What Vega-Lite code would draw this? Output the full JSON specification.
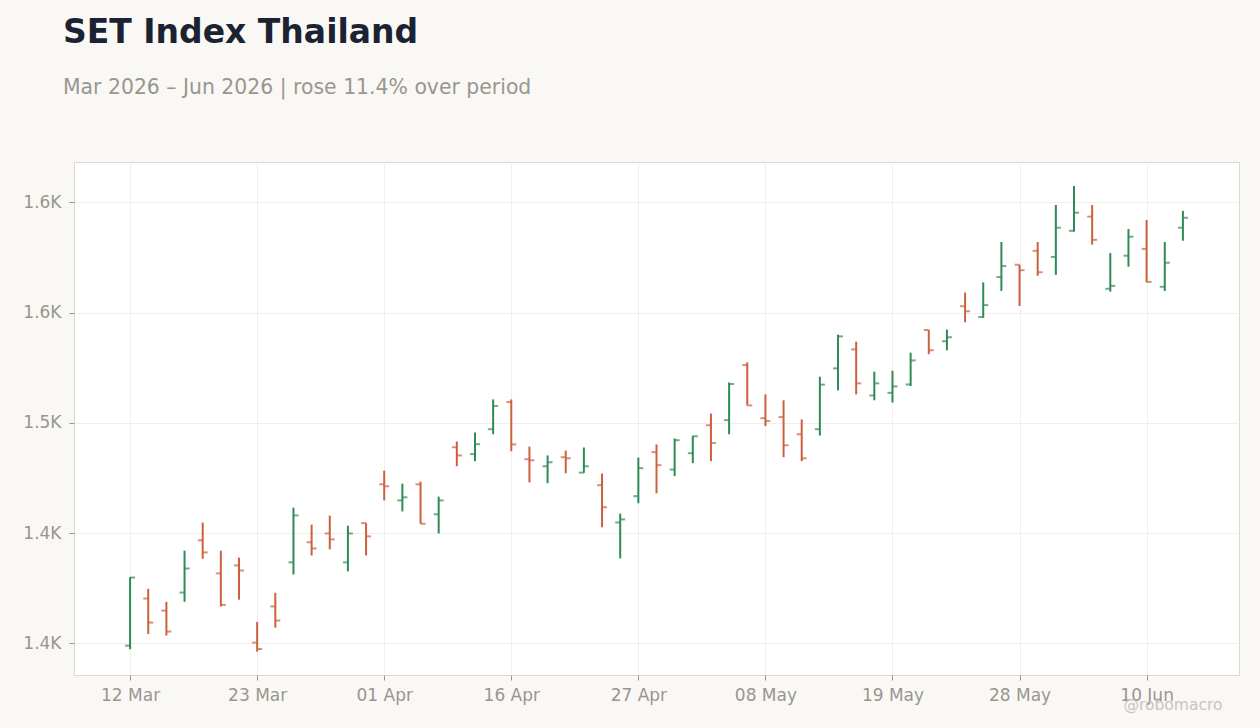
{
  "$schema": "https://vega.github.io/schema/vega-lite/v6.json",
  "autosize": {"type": "none"},
  "width": 1165,
  "height": 513,
  "padding": {"left": 74, "top": 162, "right": 21, "bottom": 53},
  "background": "#f9f8f5",
  "config": {
    "font": "DejaVu Sans",
    "view": {"fill": "#ffffff", "stroke": "#dcd8d0", "strokeWidth": 1}
  },
  "title": {
    "text": "SET Index Thailand",
    "subtitle": "Mar 2026 – Jun 2026 | rose 11.4% over period",
    "anchor": "start",
    "frame": "group",
    "dx": -11,
    "offset": 64,
    "fontSize": 33,
    "fontWeight": "bold",
    "color": "#1b2333",
    "subtitleFontSize": 20.4,
    "subtitleColor": "#9a9690",
    "subtitlePadding": 28
  },
  "data": {
    "values": [
      {"day": 0, "date": "2026-03-12", "open": 1398.9, "high": 1430.0, "low": 1397.3, "close": 1429.8},
      {"day": 1, "date": "2026-03-13", "open": 1420.3, "high": 1424.7, "low": 1404.2, "close": 1409.4},
      {"day": 2, "date": "2026-03-16", "open": 1414.8, "high": 1418.8, "low": 1403.5, "close": 1405.3},
      {"day": 3, "date": "2026-03-17", "open": 1423.0, "high": 1442.0, "low": 1418.8, "close": 1433.9},
      {"day": 4, "date": "2026-03-18", "open": 1446.7, "high": 1454.7, "low": 1438.3, "close": 1441.2},
      {"day": 5, "date": "2026-03-19", "open": 1431.7, "high": 1442.0, "low": 1416.7, "close": 1417.4},
      {"day": 6, "date": "2026-03-20", "open": 1435.3, "high": 1438.8, "low": 1419.8, "close": 1433.0},
      {"day": 7, "date": "2026-03-23", "open": 1400.3, "high": 1409.7, "low": 1396.2, "close": 1397.4},
      {"day": 8, "date": "2026-03-24", "open": 1416.7, "high": 1422.9, "low": 1407.1, "close": 1410.3},
      {"day": 9, "date": "2026-03-25", "open": 1436.7, "high": 1461.5, "low": 1431.2, "close": 1458.0},
      {"day": 10, "date": "2026-03-26", "open": 1445.8, "high": 1453.8, "low": 1439.8, "close": 1443.0},
      {"day": 11, "date": "2026-03-27", "open": 1449.8, "high": 1457.9, "low": 1442.6, "close": 1447.1},
      {"day": 12, "date": "2026-03-30", "open": 1436.7, "high": 1453.3, "low": 1432.6, "close": 1449.8},
      {"day": 13, "date": "2026-03-31", "open": 1454.5, "high": 1454.5, "low": 1439.8, "close": 1448.5},
      {"day": 14, "date": "2026-04-01", "open": 1472.1, "high": 1478.3, "low": 1464.8, "close": 1471.2},
      {"day": 15, "date": "2026-04-02", "open": 1464.8, "high": 1472.4, "low": 1459.8, "close": 1466.2},
      {"day": 16, "date": "2026-04-03", "open": 1472.1, "high": 1473.3, "low": 1454.2, "close": 1454.2},
      {"day": 17, "date": "2026-04-07", "open": 1458.5, "high": 1466.5, "low": 1449.8, "close": 1464.8},
      {"day": 18, "date": "2026-04-08", "open": 1488.9, "high": 1491.5, "low": 1480.3, "close": 1485.2},
      {"day": 19, "date": "2026-04-09", "open": 1485.8, "high": 1495.6, "low": 1482.6, "close": 1490.3},
      {"day": 20, "date": "2026-04-10", "open": 1497.1, "high": 1510.6, "low": 1494.8, "close": 1507.6},
      {"day": 21, "date": "2026-04-16", "open": 1509.4, "high": 1510.6, "low": 1487.1, "close": 1490.2},
      {"day": 22, "date": "2026-04-17", "open": 1483.5, "high": 1489.2, "low": 1473.0, "close": 1483.0},
      {"day": 23, "date": "2026-04-20", "open": 1480.3, "high": 1485.2, "low": 1472.6, "close": 1482.1},
      {"day": 24, "date": "2026-04-21", "open": 1484.4, "high": 1487.4, "low": 1477.1, "close": 1483.9},
      {"day": 25, "date": "2026-04-22", "open": 1477.4, "high": 1488.8, "low": 1477.3, "close": 1480.3},
      {"day": 26, "date": "2026-04-23", "open": 1471.7, "high": 1477.0, "low": 1452.6, "close": 1461.7},
      {"day": 27, "date": "2026-04-24", "open": 1454.8, "high": 1458.8, "low": 1438.5, "close": 1456.2},
      {"day": 28, "date": "2026-04-27", "open": 1466.7, "high": 1484.2, "low": 1463.5, "close": 1479.4},
      {"day": 29, "date": "2026-04-28", "open": 1486.7, "high": 1490.2, "low": 1468.0, "close": 1480.8},
      {"day": 30, "date": "2026-04-29", "open": 1478.8, "high": 1492.9, "low": 1475.8, "close": 1492.1},
      {"day": 31, "date": "2026-04-30", "open": 1486.2, "high": 1494.1, "low": 1481.7, "close": 1493.9},
      {"day": 32, "date": "2026-05-05", "open": 1498.9, "high": 1504.2, "low": 1482.6, "close": 1490.8},
      {"day": 33, "date": "2026-05-06", "open": 1501.2, "high": 1518.3, "low": 1494.8, "close": 1517.6},
      {"day": 34, "date": "2026-05-07", "open": 1526.2, "high": 1527.4, "low": 1507.9, "close": 1507.9},
      {"day": 35, "date": "2026-05-08", "open": 1502.1, "high": 1512.9, "low": 1498.5, "close": 1500.8},
      {"day": 36, "date": "2026-05-11", "open": 1502.6, "high": 1510.2, "low": 1484.4, "close": 1489.8},
      {"day": 37, "date": "2026-05-12", "open": 1494.8, "high": 1501.5, "low": 1482.6, "close": 1483.9},
      {"day": 38, "date": "2026-05-13", "open": 1497.1, "high": 1520.9, "low": 1494.2, "close": 1517.3},
      {"day": 39, "date": "2026-05-14", "open": 1524.7, "high": 1540.0, "low": 1514.7, "close": 1539.2},
      {"day": 40, "date": "2026-05-15", "open": 1533.3, "high": 1536.8, "low": 1512.9, "close": 1517.9},
      {"day": 41, "date": "2026-05-18", "open": 1512.4, "high": 1523.2, "low": 1510.2, "close": 1517.9},
      {"day": 42, "date": "2026-05-19", "open": 1513.6, "high": 1523.6, "low": 1509.2, "close": 1516.5},
      {"day": 43, "date": "2026-05-20", "open": 1517.4, "high": 1531.8, "low": 1516.7, "close": 1528.3},
      {"day": 44, "date": "2026-05-21", "open": 1542.1, "high": 1542.1, "low": 1531.1, "close": 1532.9},
      {"day": 45, "date": "2026-05-22", "open": 1537.0, "high": 1542.3, "low": 1532.9, "close": 1538.8},
      {"day": 46, "date": "2026-05-25", "open": 1552.9, "high": 1559.1, "low": 1545.6, "close": 1550.6},
      {"day": 47, "date": "2026-05-26", "open": 1548.0, "high": 1563.7, "low": 1547.6, "close": 1553.4},
      {"day": 48, "date": "2026-05-27", "open": 1566.1, "high": 1582.0, "low": 1559.8, "close": 1571.1},
      {"day": 49, "date": "2026-05-28", "open": 1571.7, "high": 1571.7, "low": 1553.0, "close": 1569.2},
      {"day": 50, "date": "2026-05-29", "open": 1578.0, "high": 1582.0, "low": 1566.7, "close": 1568.3},
      {"day": 51, "date": "2026-06-02", "open": 1575.2, "high": 1598.8, "low": 1567.1, "close": 1588.5},
      {"day": 52, "date": "2026-06-04", "open": 1587.1, "high": 1607.4, "low": 1586.7, "close": 1595.3},
      {"day": 53, "date": "2026-06-05", "open": 1593.5, "high": 1598.8, "low": 1580.8, "close": 1583.0},
      {"day": 54, "date": "2026-06-08", "open": 1560.8, "high": 1577.0, "low": 1559.5, "close": 1562.1},
      {"day": 55, "date": "2026-06-09", "open": 1575.8, "high": 1587.9, "low": 1570.8, "close": 1584.4},
      {"day": 56, "date": "2026-06-10", "open": 1578.9, "high": 1592.0, "low": 1563.8, "close": 1563.9},
      {"day": 57, "date": "2026-06-11", "open": 1561.7, "high": 1582.0, "low": 1559.8, "close": 1572.6},
      {"day": 58, "date": "2026-06-12", "open": 1588.5, "high": 1596.1, "low": 1582.6, "close": 1593.0}
    ]
  },
  "encoding": {
    "x": {
      "field": "day",
      "type": "quantitative",
      "scale": {"domain": [-3.09, 61.09], "nice": false, "zero": false},
      "axis": {
        "values": [0, 7, 14, 21, 28, 35, 42, 49, 56],
        "labelExpr": "['12 Mar', '23 Mar', '01 Apr', '16 Apr', '27 Apr', '08 May', '19 May', '28 May', '10 Jun'][round(datum.value / 7)]",
        "labelFontSize": 17,
        "labelColor": "#99958f",
        "labelPadding": 7,
        "labelFlush": false,
        "labelOverlap": false,
        "tickColor": "#99958f",
        "tickSize": 5,
        "domain": false,
        "grid": true,
        "gridColor": "#f0efec",
        "title": "@robomacro",
        "titleColor": "#c8c5c0",
        "titleFontSize": 15.5,
        "titleFontWeight": "normal",
        "titleAlign": "right",
        "titleAnchor": "end",
        "titleBaseline": "middle",
        "titleX": 1148,
        "titleY": 29
      }
    },
    "color": {
      "condition": {"test": "datum.close >= datum.open", "value": "#2e8b57"},
      "value": "#cc603d"
    }
  },
  "layer": [
    {
      "mark": {"type": "rule", "strokeWidth": 2},
      "encoding": {
        "y": {
          "field": "low",
          "type": "quantitative",
          "scale": {"domain": [1385.6, 1618.3], "nice": false, "zero": false},
          "axis": {
            "values": [1400, 1450, 1500, 1550, 1600],
            "labelExpr": "format(datum.value / 1000, '.1f') + 'K'",
            "labelFontSize": 17,
            "labelColor": "#99958f",
            "labelPadding": 8,
            "tickColor": "#99958f",
            "tickSize": 5,
            "domain": false,
            "grid": true,
            "gridColor": "#f0efec",
            "title": null
          }
        },
        "y2": {"field": "high"}
      }
    },
    {
      "mark": {"type": "tick", "size": 5, "thickness": 2, "xOffset": -2.5, "orient": "horizontal"},
      "encoding": {"y": {"field": "open", "type": "quantitative"}}
    },
    {
      "mark": {"type": "tick", "size": 5, "thickness": 2, "xOffset": 2.5, "orient": "horizontal"},
      "encoding": {"y": {"field": "close", "type": "quantitative"}}
    }
  ]
}
